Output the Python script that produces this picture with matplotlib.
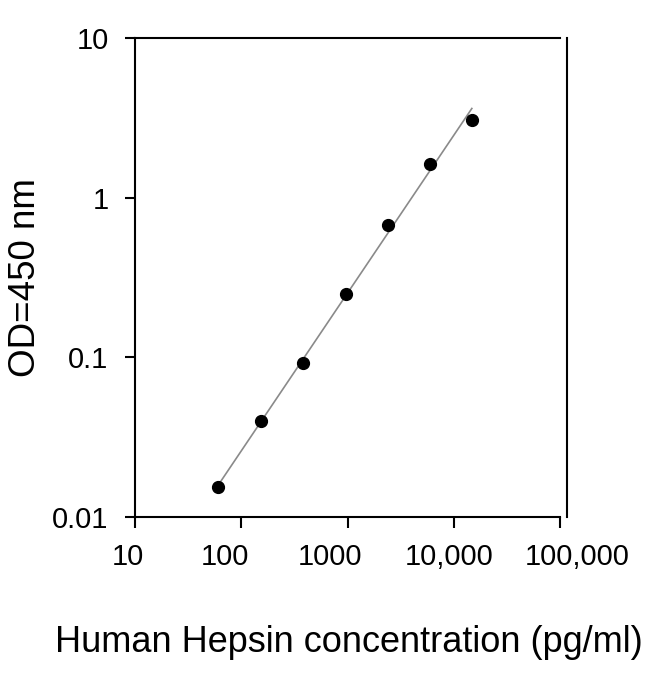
import numpy as np
import matplotlib
matplotlib.use('Agg')
import matplotlib.pyplot as plt
import matplotlib.transforms as mtransforms

# standard curve readings
conc = [61, 154, 384, 960, 2400, 5940, 14800]          # pg/ml
od450 = [0.0154, 0.0398, 0.0917, 0.251, 0.678, 1.63, 3.07]

x_ticks = [10, 100, 1000, 10000, 100000]
x_ticklabels = ['10', '100', '1000', '10,000', '100,000']
y_ticks = [0.01, 0.1, 1, 10]
y_ticklabels = ['0.01', '0.1', '1', '10']

plt.rcParams['font.family'] = ['Liberation Sans', 'DejaVu Sans']

fig = plt.figure(figsize=(6.5, 6.74), dpi=100)
ax = fig.add_axes([135/650, 1 - 517/674, 425/650, 479/674])

# log-log linear fit
lx, ly = np.log10(conc), np.log10(od450)
k, b = np.polyfit(lx, ly, 1)
fx = np.array([lx.min(), lx.max()])
ax.plot(10**fx, 10**(k*fx + b), color='#8a8a8a', lw=1.2, zorder=2)
ax.plot(conc, od450, 'o', color='black', ms=8.5, zorder=3)

ax.set_xscale('log')
ax.set_yscale('log')
ax.set_xlim(10, 100000)
ax.set_ylim(0.01, 10)
ax.set_xticks(x_ticks)
ax.set_xticklabels(x_ticklabels)
ax.set_yticks(y_ticks)
ax.set_yticklabels(y_ticklabels)
ax.minorticks_off()

ax.tick_params(axis='x', direction='out', length=8, width=1.5, pad=11, labelsize=21)
ax.tick_params(axis='y', direction='out', length=7, width=1.5, pad=12, labelsize=21)
for s in ax.spines.values():
    s.set_linewidth(1.5)
ax.spines['right'].set_position(('outward', 5))

# labels in the original sit a bit off their ticks
shift_px = [-7, -16, -17, -5, 17]
for lab, dx in zip(ax.get_xticklabels(), shift_px):
    lab.set_transform(lab.get_transform() + mtransforms.ScaledTranslation(dx/100, 0, fig.dpi_scale_trans))

fig.text(349/650, 1 - 652/674, 'Human Hepsin concentration (pg/ml)', ha='center', va='baseline', fontsize=26)
fig.text(25.5/650, 1 - 277.5/674, 'OD=450 nm', ha='center', va='center', rotation=90, fontsize=26.5)

fig.savefig('out.png', dpi=100)
